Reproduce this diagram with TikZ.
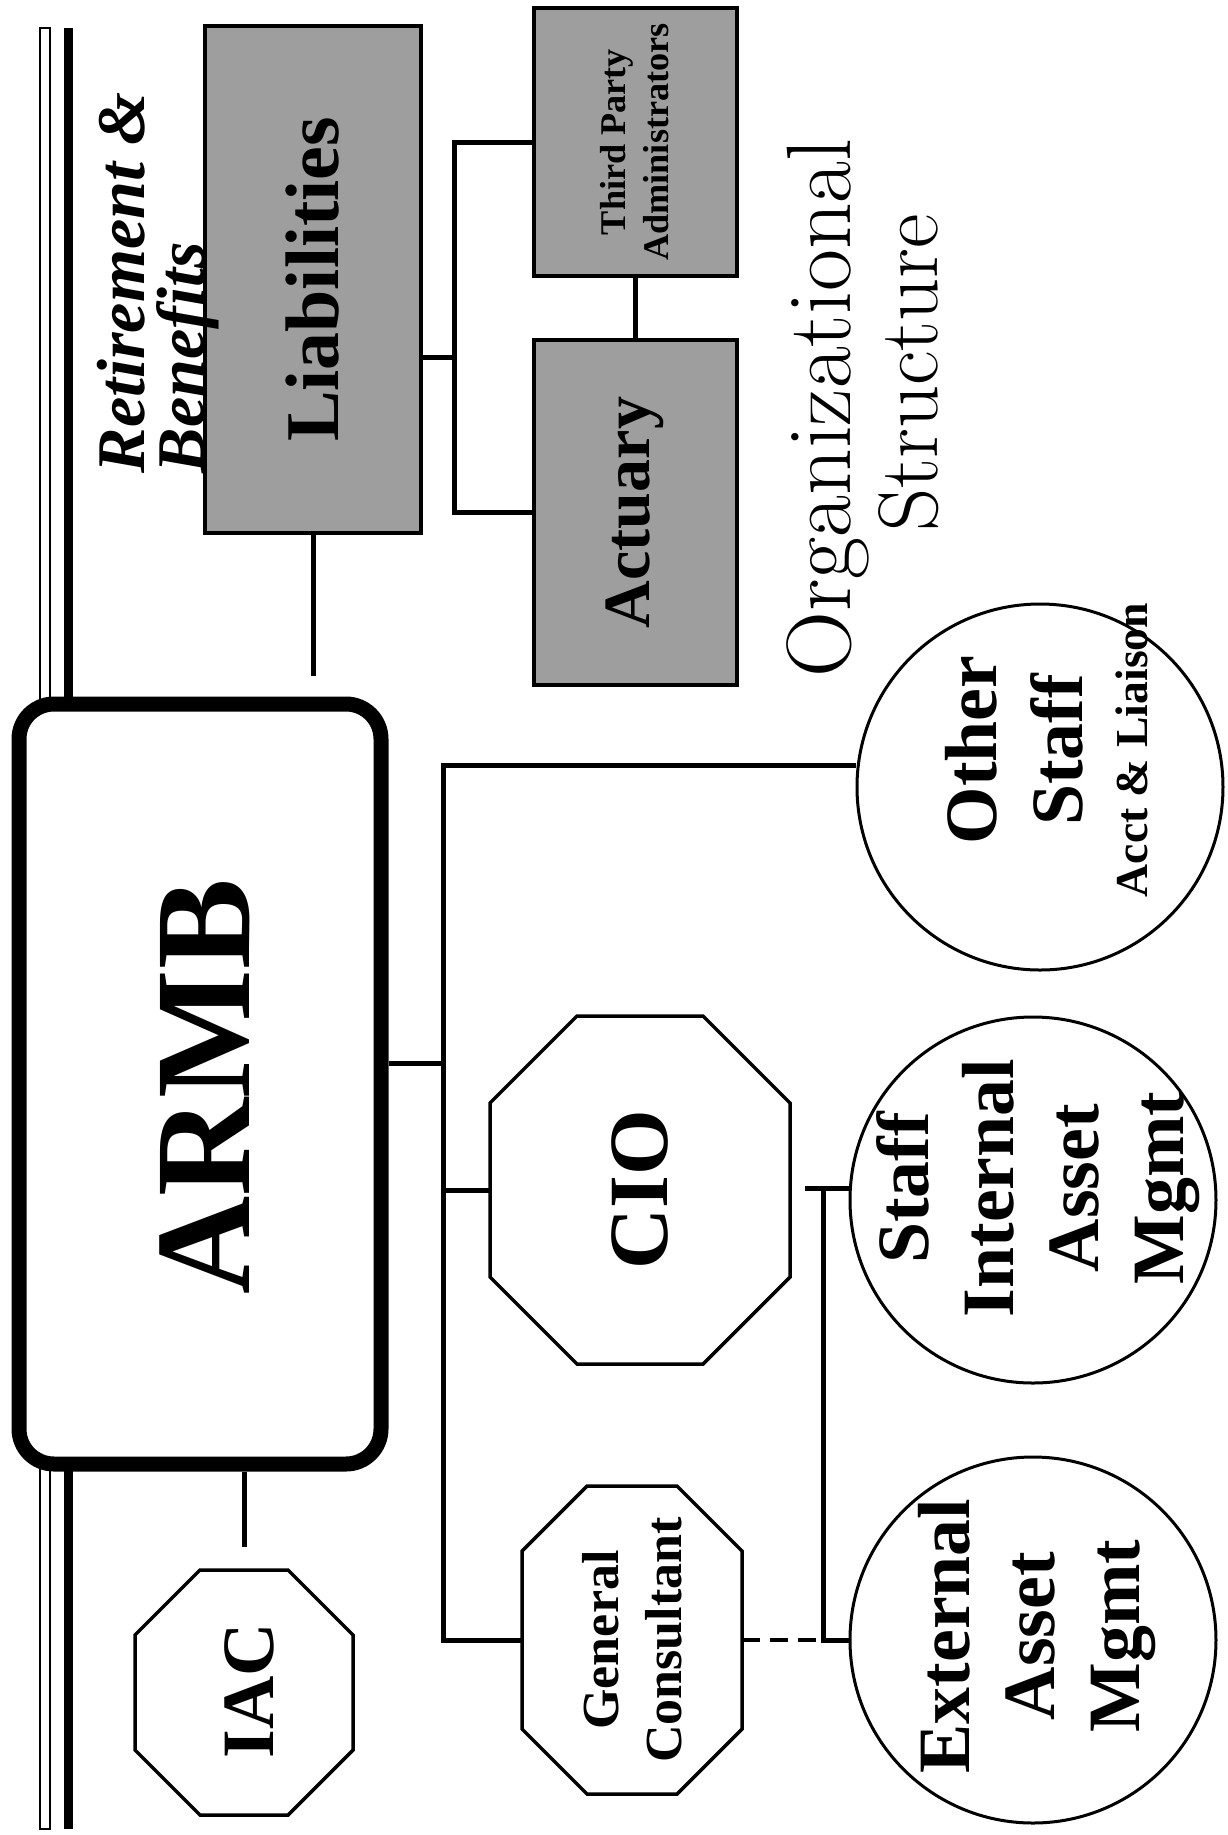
\documentclass[tikz,border=0pt]{standalone}
\usepackage{fontspec}
\usepackage{tikz}
\usetikzlibrary{calc}
\newfontfamily\timesfont{Liberation Serif}

% octagon round a placeholder node: #1 node name, #2 corner cut
\newcommand{\drawoctagon}[2]{%
  \draw[line width=0.035cm, fill=white]
      ([xshift=#2]#1.north west) -- ([xshift=-#2]#1.north east)
      -- ([yshift=-#2]#1.north east) -- ([yshift=#2]#1.south east)
      -- ([xshift=-#2]#1.south east) -- ([xshift=#2]#1.south west)
      -- ([yshift=#2]#1.south west) -- ([yshift=-#2]#1.north west) -- cycle;}

\begin{document}
\begin{tikzpicture}[
      box/.style={
          rectangle, draw, line width=0.04cm, fill=black!38,
          inner sep=0pt
      },
      octo/.style={rectangle, inner sep=0pt, outer sep=0pt},
      ring/.style={
          circle, draw, line width=0.03cm, fill=white,
          minimum size=3.66cm, inner sep=0pt
      },
      lbl/.style={rotate=90, align=center, inner sep=0pt},
      link/.style={line width=0.05cm},
      dashlink/.style={line width=0.035cm, dash pattern=on 0.18cm off 0.1cm},
      title/.style={rotate=90, inner sep=0pt}
  ]
  \useasboundingbox (0,0) rectangle (12.28,-18.35);

  % side rules
  \draw[line width=0.02cm, fill=white] (0.40,-0.28) rectangle (0.50,-18.29);
  \fill (0.64,-0.28) rectangle (0.73,-18.29);

  % board
  \node[rectangle, draw, line width=0.15cm, fill=white, rounded corners=0.35cm,
        minimum width=3.62cm, minimum height=7.60cm] (armb) at (2.00,-10.84) {};
  \node[lbl, font=\timesfont\bfseries\fontsize{38.7}{40}\selectfont]
      (armbtxt) at (2.05,-10.87) {ARMB};

  % Liabilities branch
  \node[box, minimum width=2.16cm, minimum height=5.07cm] (liab) at (3.13,-2.795) {};
  \node[lbl, font=\timesfont\bfseries\fontsize{21.6}{24}\selectfont]
      (liabtxt) at (liab) {Liabilities};
  \node[lbl, anchor=west, align=left,
        font=\timesfont\bfseries\itshape\fontsize{19.4}{17}\selectfont]
      (rbtxt) at (1.58,-4.74) {Retirement \&\\Benefits};
  \node[box, minimum width=2.03cm, minimum height=2.68cm] (tpa) at (6.35,-1.42) {};
  \node[lbl, font=\timesfont\bfseries\fontsize{10.3}{12.2}\selectfont]
      (tpatxt) at (tpa) {Third Party\\Administrators};
  \node[box, minimum width=2.03cm, minimum height=3.45cm] (act) at (6.35,-5.125) {};
  \node[lbl, font=\timesfont\bfseries\fontsize{18.8}{20}\selectfont]
      (acttxt) at (act) {Actuary};

  \coordinate (lbrk) at (4.54,-3.57);
  \draw[link, shorten >=0.21cm] (liab.south) -- (liab.south |- armb.north);
  \draw[link] (tpa.west) -- (tpa.west -| lbrk) -- (act.west -| lbrk) -- (act.west);
  \draw[link] (liab.east |- lbrk) -- (lbrk);
  \draw[link] (tpa.south) -- (act.north);

  % title
  \node[title, anchor=base, font=\fontsize{26}{28}\selectfont]
      (orgtxt) at (8.50,-4.08) {Organizational};
  \node[title, anchor=base, font=\fontsize{24}{26}\selectfont]
      (structtxt) at (9.37,-3.73) {Structure};

  % investment side
  \node[octo, minimum width=3.00cm, minimum height=3.48cm] (cio) at (6.40,-11.90) {};
  \drawoctagon{cio}{0.87cm}
  \node[lbl, font=\timesfont\bfseries\fontsize{24}{26}\selectfont]
      (ciotxt) at (cio) {CIO};
  \node[octo, minimum width=2.20cm, minimum height=3.08cm] (gc) at (6.32,-16.40) {};
  \drawoctagon{gc}{0.65cm}
  \node[lbl, font=\timesfont\bfseries\fontsize{14.8}{17.9}\selectfont]
      (gctxt) at (gc) {General\\Consultant};
  \node[octo, minimum width=2.18cm, minimum height=2.45cm] (iac) at (2.44,-16.925) {};
  \drawoctagon{iac}{0.65cm}
  \node[lbl, font=\timesfont\bfseries\fontsize{21}{24}\selectfont]
      (iactxt) at (2.49,-16.91) {IAC};

  \node[ring] (osc) at (10.40,-7.87) {};
  \node[lbl, font=\timesfont\bfseries\fontsize{21}{24.5}\selectfont]
      (osctxt) at (10.47,-7.50)
      {Other\\Staff\\[-6pt]{\fontsize{13}{15}\selectfont Acct \& Liaison}};
  \node[ring] (sim) at (10.33,-12.00) {};
  \node[lbl, font=\timesfont\bfseries\fontsize{21}{24.2}\selectfont]
      (simtxt) at (10.38,-11.88) {Staff\\Internal\\Asset\\Mgmt};
  \node[ring] (ext) at (10.33,-16.40) {};
  \node[lbl, font=\timesfont\bfseries\fontsize{21}{24.2}\selectfont]
      (exttxt) at (10.37,-16.36) {External\\Asset\\Mgmt};

  % connectors
  \coordinate (bustop) at (4.43,-7.65);
  \coordinate (busarmb) at (4.43,-10.63);
  \coordinate (mgtop) at (8.23,-11.88);
  \coordinate (mgstub) at (8.05,-11.88);
  \draw[link] (bustop -| osc.west) -- (bustop) |- (gc.west);
  \draw[link] (armb.east |- busarmb) -- (busarmb);
  \draw[link] (cio.west -| bustop) -- (cio.west);
  \draw[link, shorten <=0.23cm] (iac.north) -- (iac.north |- armb.south);
  \draw[link] (mgstub) -- (mgtop -| sim.west);
  \draw[link] (mgtop) -- (mgtop |- ext.west) -- (ext.west);
  \draw[dashlink] (gc.east) -- (gc.east -| mgtop);
  \end{tikzpicture}
\end{document}
